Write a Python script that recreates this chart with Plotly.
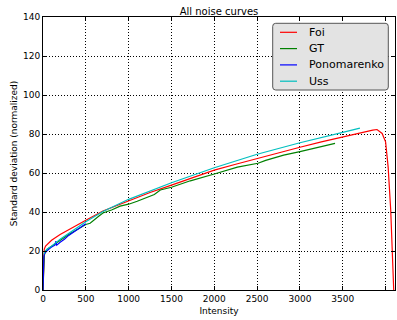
import plotly.graph_objects as go

# ---- data ----
foi_x = [0, 5, 15, 30, 60, 100, 200, 300, 400, 500, 700, 1000, 1250, 1500, 1750,
         2000, 2250, 2500, 2750, 3000, 3250, 3500, 3750, 3850, 3900, 3960, 4000,
         4030, 4060, 4080, 4095]
foi_y = [0, 12, 21, 22.5, 24, 25.5, 28.5, 31, 33.5, 35.8, 40.5, 45.8, 50, 53.8, 57.8,
         61.5, 64.5, 67.5, 70.5, 73.2, 76, 78.6, 81.2, 82, 82.3, 80.3, 76,
         63, 41, 20, 0]

gt_x = [0, 5, 15, 30, 50, 100, 200, 300, 400, 500, 550, 600, 650, 700, 800, 900,
        1000, 1100, 1250, 1300, 1370, 1500, 1720, 1900, 2000, 2270, 2400, 2510,
        2600, 2810, 3000, 3200, 3410]
gt_y = [0, 10, 18, 19.5, 21, 22.5, 25.5, 28.5, 31, 33.6, 34.2, 35.8, 37.8, 39.5,
        41, 43, 44, 45.5, 48.2, 49, 51.3, 52.7, 56, 58, 59.5, 63, 64.2, 65,
        66.5, 69.2, 71, 73, 75.2]

pono_x = [0, 5, 10, 20, 40, 70, 100, 140, 150, 160, 200, 250, 300, 350, 400, 450, 500]
pono_y = [0, 10, 17, 19, 20, 21, 22, 23, 25, 23, 24.5, 26, 28, 29.5, 31, 32.5, 34]

uss_x = [10, 25, 50, 100, 200, 300, 400, 500, 700, 1000, 1500, 2000, 2500, 3000,
         3500, 3700]
uss_y = [18.5, 20, 21, 22.5, 26, 29, 32, 35, 40.3, 46.5, 55, 62.7, 69.6, 75.5,
         80.8, 83]

names = ["Foi", "GT", "Ponomarenko", "Uss"]
colors = ["#ff0000", "#008000", "#0000ff", "#00bfbf"]

x_ticks = [0, 500, 1000, 1500, 2000, 2500, 3000, 3500, 4000]
y_ticks = [0, 20, 40, 60, 80, 100, 120, 140]

W, H = 397, 320
ML, MR, MT, MB = 43, 2, 17, 30
PW, PH = W - ML - MR, H - MT - MB


def px_x(p):
    return (p - ML) / PW


def px_y(p):
    return 1 - (p - MT) / PH


fig = go.Figure()
for name, xs, ys, c in zip(names, [foi_x, gt_x, pono_x, uss_x],
                           [foi_y, gt_y, pono_y, uss_y], colors):
    fig.add_trace(go.Scatter(x=xs, y=ys, mode="lines", name=name,
                             line=dict(color=c, width=1.2), showlegend=False))

font = "DejaVu Sans"
axis_common = dict(
    showline=True, linecolor="black", linewidth=1, mirror="ticks",
    ticks="inside", ticklen=4, tickcolor="black", tickwidth=1,
    showgrid=True, gridcolor="black", gridwidth=1, griddash="1px,2px",
    zeroline=False, tickfont=dict(family=font, size=9, color="black"),
)

fig.update_xaxes(range=[0, 4110], tickvals=x_ticks,
                 title=dict(text="Intensity", font=dict(family=font, size=9, color="black"),
                            standoff=4),
                 **axis_common)
fig.update_yaxes(range=[0, 140], tickvals=y_ticks,
                 title=dict(text="Standard deviation (normalized)",
                            font=dict(family=font, size=9, color="black"), standoff=3),
                 **axis_common)

# ---- legend drawn by hand (matplotlib-like compact spacing, rounded box) ----
bx0, bx1, by0, by1 = 272.7, 388.3, 23.3, 90.0
r = 3.0
X0, X1 = px_x(bx0), px_x(bx1)
Y0, Y1 = px_y(by0), px_y(by1)
rx, ry = r / PW, r / PH
path = (f"M {X0+rx},{Y0} L {X1-rx},{Y0} Q {X1},{Y0} {X1},{Y0-ry} "
        f"L {X1},{Y1+ry} Q {X1},{Y1} {X1-rx},{Y1} "
        f"L {X0+rx},{Y1} Q {X0},{Y1} {X0},{Y1+ry} "
        f"L {X0},{Y0-ry} Q {X0},{Y0} {X0+rx},{Y0} Z")
shapes = [dict(type="path", path=path, xref="paper", yref="paper",
               fillcolor="#e3e3e3", line=dict(color="#555555", width=1), layer="above")]
annotations = []
row_y = [32.3, 48.6, 64.9, 81.2]
for name, c, ry_px in zip(names, colors, row_y):
    shapes.append(dict(type="line", xref="paper", yref="paper",
                       x0=px_x(280), x1=px_x(297), y0=px_y(ry_px), y1=px_y(ry_px),
                       line=dict(color=c, width=1.2), layer="above"))
    annotations.append(dict(text=name, xref="paper", yref="paper",
                            x=px_x(307), y=px_y(ry_px), xanchor="left", yanchor="middle",
                            showarrow=False,
                            font=dict(family=font, size=11, color="black")))

fig.update_layout(
    width=W, height=H,
    margin=dict(l=ML, r=MR, t=MT, b=MB, pad=0),
    paper_bgcolor="white", plot_bgcolor="white",
    title=dict(text="All noise curves", font=dict(family=font, size=10, color="black"),
               x=0.5, xref="paper", xanchor="center",
               y=1, yref="paper", yanchor="bottom", pad=dict(b=2)),
    shapes=shapes, annotations=annotations,
    showlegend=False,
)

fig.write_html("out.html")
